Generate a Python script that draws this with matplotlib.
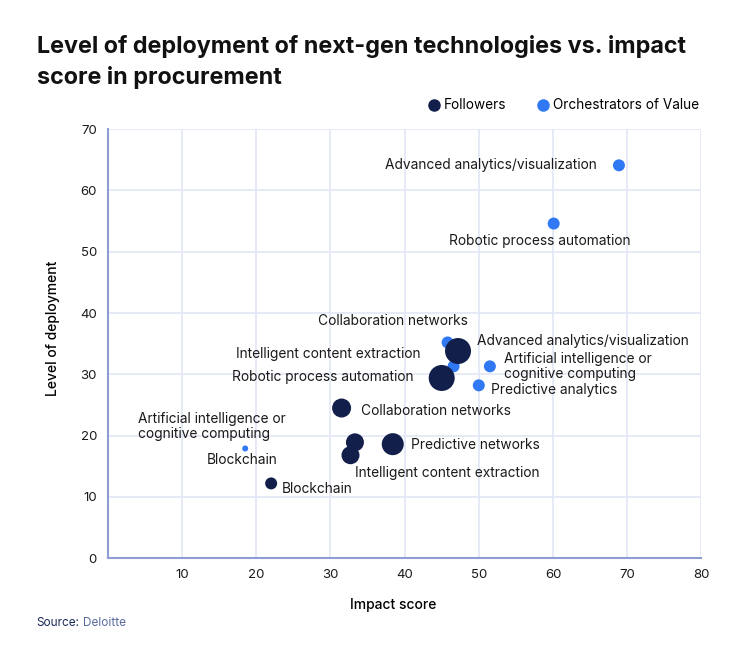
import matplotlib.pyplot as plt
from matplotlib.lines import Line2D

plt.rcParams['font.family'] = ['Inter', 'DejaVu Sans']

# Orchestrators of Value
orch_names = ["Advanced analytics/visualization", "Robotic process automation",
              "Collaboration networks", "Intelligent content extraction",
              "Artificial intelligence or\ncognitive computing", "Predictive analytics",
              "Blockchain"]
orch_x = [68.9, 60.1, 45.8, 46.6, 51.5, 50.0, 18.5]
orch_y = [64.1, 54.6, 35.2, 31.3, 31.3, 28.2, 17.9]
orch_r = [6, 6, 6, 6, 6, 6, 3]

# Followers
foll_names = ["Advanced analytics/visualization", "Robotic process automation",
              "Collaboration networks", "Predictive networks",
              "Artificial intelligence or\ncognitive computing",
              "Intelligent content extraction", "Blockchain"]
foll_x = [47.2, 45.0, 31.5, 38.4, 33.3, 32.7, 22.0]
foll_y = [33.8, 29.4, 24.5, 18.6, 18.9, 16.8, 12.2]
foll_r = [13, 13, 9.5, 11, 9, 9, 6]

x_ticks = [10, 20, 30, 40, 50, 60, 70, 80]
y_ticks = [0, 10, 20, 30, 40, 50, 60, 70]

# label placement: (dx px, dy px, ha)
orch_off = [(-22, 0, "right"), (-14, -17, "center"), (-55, 21, "center"),
            (-33, 12, "right"), (14, 0, "left"), (12, -5, "left"), (-3, -12, "center")]
foll_off = [(19, 10, "left"), (-28, 1, "right"), (19, -3, "left"), (18, -1, "left"),
            (-217, 16, "left"), (5, -18, "left"), (11, -6, "left")]

DARK = "#121f4b"
BLUE = "#3178f4"
GRID = "#e2e6f5"
SPINE = "#8e9dd6"


def to_s(r):
    return (2 * r * 0.72) ** 2


fig = plt.figure(figsize=(7.5, 6.59), dpi=100)
ax = fig.add_axes([0.144, 0.153, 0.791, 0.651])

ax.scatter(orch_x, orch_y, s=[to_s(r) for r in orch_r], color=BLUE, zorder=3,
           linewidths=0)
ax.scatter(foll_x, foll_y, s=[to_s(r) for r in foll_r], color=DARK, zorder=4,
           linewidths=0)

for names, xs, ys, offs in [(orch_names, orch_x, orch_y, orch_off),
                            (foll_names, foll_x, foll_y, foll_off)]:
    for n, x, y, (dx, dy, ha) in zip(names, xs, ys, offs):
        ax.annotate(n, (x, y), xytext=(dx, dy), textcoords="offset pixels",
                    ha=ha, va="center", fontsize=9.9, color="#1a1a1a",
                    linespacing=1.05, zorder=5)

ax.set_xlim(0, 80)
ax.set_ylim(0, 70)
ax.set_xticks(x_ticks)
ax.set_yticks(y_ticks)
ax.tick_params(length=0, labelsize=9.5, colors="#1a1a1a", pad=8)
ax.grid(True, color=GRID, linewidth=1.2, zorder=0)
ax.set_axisbelow(True)
for s in ["top", "right"]:
    ax.spines[s].set_visible(False)
for s in ["left", "bottom"]:
    ax.spines[s].set_color(SPINE)
    ax.spines[s].set_linewidth(1.5)

ax.set_xlabel("Impact score", fontsize=10, fontweight="medium")
ax.set_ylabel("Level of deployment", fontsize=10, fontweight="medium")
ax.xaxis.set_label_coords(0.48, -0.094)
ax.yaxis.set_label_coords(-0.081, 0.536)

fig.text(0.049, 0.947, "Level of deployment of next-gen technologies vs. impact\nscore in procurement",
         fontsize=16.8, fontweight="bold", va="top", ha="left", color="#111111",
         linespacing=1.45)

# legend
handles = [Line2D([], [], marker="o", linestyle="", color=DARK, markersize=8, label="Followers"),
           Line2D([], [], marker="o", linestyle="", color=BLUE, markersize=8,
                  label="Orchestrators of Value")]
fig.legend(handles=handles, loc="center right", bbox_to_anchor=(0.948, 0.84), ncol=2,
           frameon=False, fontsize=9.8, handletextpad=0.2, columnspacing=2.2,
           handlelength=1.0)

src = fig.text(0.049, 0.054, "Source:", fontsize=8.5, color="#1a2a5a", va="center")
ax.annotate("Deloitte", xy=(1, 0.5), xycoords=src, xytext=(3, 0),
            textcoords="offset pixels", fontsize=8.5, color="#5a6aa0", va="center",
            annotation_clip=False)

fig.savefig("out.png", dpi=100, facecolor="white")
